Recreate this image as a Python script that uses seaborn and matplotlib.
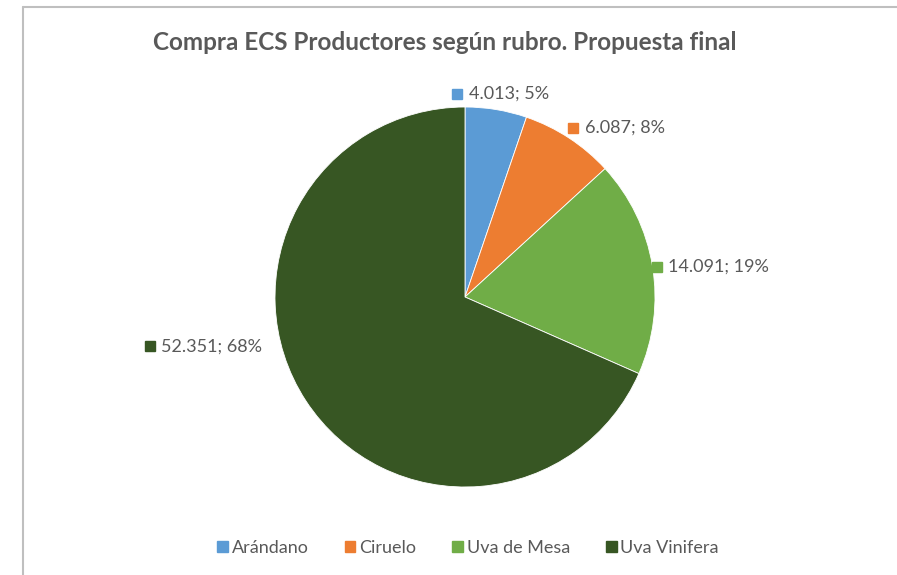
import matplotlib
matplotlib.use("Agg")
import matplotlib.pyplot as plt
from matplotlib.lines import Line2D
from matplotlib.patches import Rectangle
import seaborn as sns

# data
categories = ["Arándano", "Ciruelo", "Uva de Mesa", "Uva Vinifera"]
values = [4013, 6087, 14091, 52351]
percents = [5, 8, 19, 68]
colors = ["#5B9BD5", "#ED7D31", "#70AD47", "#375623"]

# label anchor positions (pie radius units), Excel-like placement
label_pos = [(-0.04, 1.07), (0.57, 0.89), (1.01, 0.16), (-1.66, -0.26)]

sns.set_theme(style="white")
plt.rcParams['font.family'] = ['Lato', 'DejaVu Sans']

W, H = 897, 575
fig = plt.figure(figsize=(W / 100, H / 100), dpi=100)

# chart border (only top/left visible in the crop)
bx, by = 23 / W, 1 - 7 / H
fig.add_artist(Line2D([bx, 1.01], [by, by], transform=fig.transFigure,
                      color="#BFBFBF", linewidth=1.5))
fig.add_artist(Line2D([bx, bx], [-0.01, by], transform=fig.transFigure,
                      color="#BFBFBF", linewidth=1.5))

cx, cy, r = 465, 297, 190
ax = fig.add_axes([(cx - r) / W, (H - cy - r) / H, 2 * r / W, 2 * r / H])

wedges, _ = ax.pie(values, colors=colors, startangle=90, counterclock=False,
                   radius=1, wedgeprops=dict(edgecolor="white", linewidth=0.6))
ax.set_xlim(-1, 1)
ax.set_ylim(-1, 1)
ax.set_aspect("equal")
ax.axis("off")

def fmt(v):
    return f"{v:,}".replace(",", ".")

for (x, y), v, p, c in zip(label_pos, values, percents, colors):
    ax.plot(x, y, marker="s", markersize=6.5, color=c, clip_on=False)
    ax.text(x + 0.06, y, f"{fmt(v)}; {p}%", fontsize=13, color="#595959",
            va="center", ha="left", clip_on=False)

fig.text(445 / W, 1 - 43 / H, "Compra ECS Productores según rubro. Propuesta final",
         ha="center", va="center", fontsize=17.5, fontweight="bold", color="#595959")

handles = [Rectangle((0, 0), 1, 1, color=c) for c in colors]
fig.legend(handles, categories, loc="center", bbox_to_anchor=(468 / W, 1 - 548 / H),
           ncol=4, frameon=False, fontsize=13, handlelength=0.6, handleheight=0.6,
           handletextpad=0.2, columnspacing=2.0, labelcolor="#595959")

fig.savefig("out.png", dpi=100)
